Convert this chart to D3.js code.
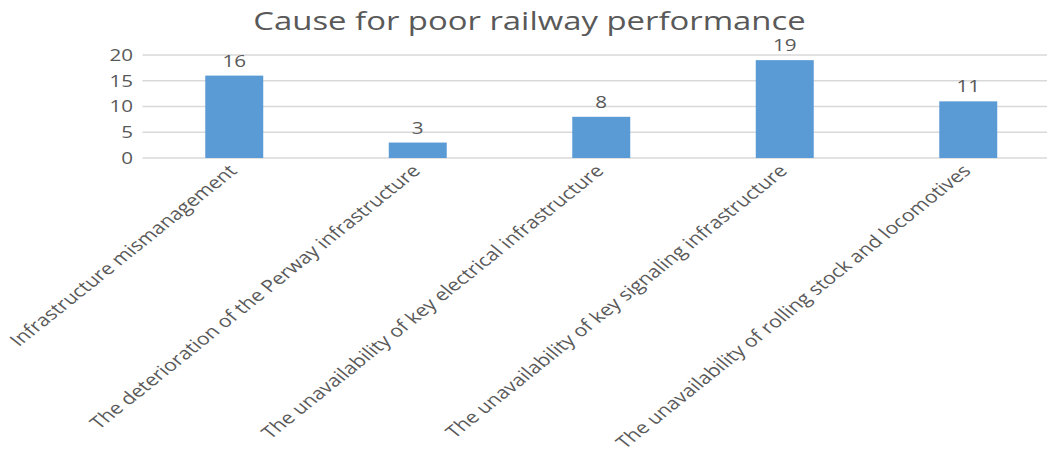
<!DOCTYPE html>
<html>
<head>
<meta charset="utf-8">
<script src="https://cdn.jsdelivr.net/npm/d3@7"></script>
<style>
  body { margin: 0; background: #fff; }
  svg text { font-family: "Open Sans", sans-serif; fill: #595959; }
</style>
</head>
<body>
<div id="chart"></div>
<script>
// chart data
const categories = [
    "Infrastructure mismanagement",
    "The deterioration of the Perway infrastructure",
    "The unavailability of key electrical infrastructure",
    "The unavailability of key signaling infrastructure",
    "The unavailability of rolling stock and locomotives"
];
const counts = [16, 3, 8, 19, 11];
const yTicks = [0, 5, 10, 15, 20];
const title = "Cause for poor railway performance";

let W = 1047, H = 457,
    sx = 1.25,  // the original picture is stretched sideways
    iw = W / sx;

let svg = d3.select("#chart").append("svg")
    .attr("width", W)
    .attr("height", H);

let root = svg.append("g")
    .attr("transform", "scale(" + sx + ",1)");

let margin = { top: 55, left: 114, bottom: H - 158 },
    plotW = 146.8 * categories.length,
    plotH = 158 - margin.top;

let x = d3.scaleBand()
    .domain(categories)
    .range([margin.left, margin.left + plotW]);
let y = d3.scaleLinear()
    .domain([0, 20])
    .range([158, margin.top]);

let barW = x.bandwidth() * 0.316;

// title
root.append("text")
    .attr("x", 423.6)
    .attr("y", 30)
    .attr("text-anchor", "middle")
    .style("font-size", "26.3px")
    .text(title);

// grid
root.append("g")
    .selectAll("line")
    .data(yTicks)
    .join("line")
    .attr("x1", margin.left)
    .attr("x2", margin.left + plotW)
    .attr("y1", d => y(d))
    .attr("y2", d => y(d))
    .attr("stroke", "#d9d9d9")
    .attr("stroke-width", 1.5);

// y tick labels
root.append("g")
    .selectAll("text")
    .data(yTicks)
    .join("text")
    .attr("x", 106.5)
    .attr("y", d => y(d))
    .attr("dy", "0.36em")
    .attr("text-anchor", "end")
    .style("font-size", "16.5px")
    .text(d => d);

// bars
root.append("g")
    .selectAll("rect")
    .data(counts)
    .join("rect")
    .attr("x", (d, i) => x(categories[i]) + (x.bandwidth() - barW) / 2)
    .attr("y", d => y(d))
    .attr("width", barW)
    .attr("height", d => y(0) - y(d))
    .attr("fill", "#5b9bd5");

// value labels
root.append("g")
    .selectAll("text")
    .data(counts)
    .join("text")
    .attr("x", (d, i) => x(categories[i]) + x.bandwidth() / 2)
    .attr("y", d => y(d) - 9)
    .attr("text-anchor", "middle")
    .style("font-size", "16.5px")
    .text(d => d);

// category labels, rotated
root.append("g")
    .selectAll("text")
    .data(categories)
    .join("text")
    .attr("transform", d => "translate(" + (x(d) + x.bandwidth() / 2 + 3) + ",172) rotate(-45)")
    .attr("text-anchor", "end")
    .style("font-size", "17px")
    .text(d => d);
</script>
</body>
</html>
